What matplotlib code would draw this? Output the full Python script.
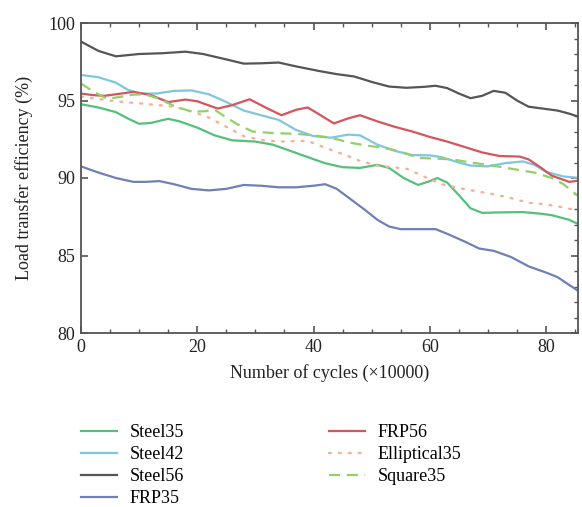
import matplotlib
matplotlib.use("Agg")
import matplotlib.pyplot as plt
from matplotlib.ticker import MultipleLocator

plt.rcParams['font.family'] = ['Liberation Serif', 'DejaVu Serif']

steel35_x = [0, 3, 6, 8, 10, 12, 15, 17, 20, 23, 26, 30, 33, 36, 39, 42, 45, 48, 51, 53, 55.5, 58, 60, 61.3, 63, 65, 67, 69, 72, 76, 79, 81, 84, 86]
steel35_y = [94.76, 94.55, 94.25, 93.85, 93.5, 93.55, 93.82, 93.65, 93.25, 92.75, 92.43, 92.35, 92.15, 91.75, 91.35, 90.95, 90.7, 90.65, 90.85, 90.65, 90.0, 89.55, 89.8, 90.0, 89.7, 88.9, 88.05, 87.75, 87.78, 87.8, 87.7, 87.6, 87.3, 86.95]

steel42_x = [0, 3, 6, 8, 10, 13, 16, 19, 22, 25, 28, 31, 34, 37, 40, 43, 46, 48, 51, 54, 57, 60, 62, 65, 67, 70, 73, 76, 78, 80, 83, 86]
steel42_y = [96.65, 96.5, 96.15, 95.7, 95.45, 95.45, 95.62, 95.65, 95.4, 94.9, 94.35, 94.05, 93.75, 93.1, 92.7, 92.6, 92.8, 92.75, 92.15, 91.75, 91.48, 91.46, 91.35, 91.0, 90.8, 90.75, 90.96, 91.07, 90.85, 90.4, 90.1, 90.0]

steel56_x = [0, 3, 6, 10, 14, 18, 21, 25, 28, 31, 34, 37, 41, 44, 47, 50, 53, 56, 59, 61, 63, 65, 67, 69, 71, 73, 75, 77, 80, 82, 84, 86]
steel56_y = [98.8, 98.2, 97.85, 98.0, 98.05, 98.15, 98.0, 97.65, 97.38, 97.4, 97.45, 97.2, 96.9, 96.7, 96.55, 96.2, 95.9, 95.82, 95.88, 95.95, 95.8, 95.45, 95.15, 95.3, 95.62, 95.5, 95.0, 94.6, 94.45, 94.35, 94.15, 93.9]

frp35_x = [0, 3, 6, 9, 11, 13.5, 16, 19, 22, 25, 28, 31, 34, 37, 40, 42, 44, 46.5, 49, 51, 53, 55, 58, 61, 63, 66, 68.5, 71, 74, 77, 80, 82, 84, 86]
frp35_y = [90.75, 90.35, 90.0, 89.75, 89.75, 89.8, 89.6, 89.3, 89.2, 89.3, 89.55, 89.5, 89.4, 89.4, 89.5, 89.6, 89.3, 88.6, 87.9, 87.3, 86.87, 86.7, 86.7, 86.7, 86.4, 85.9, 85.45, 85.3, 84.9, 84.3, 83.9, 83.6, 83.1, 82.6]

frp56_x = [0, 2, 4, 7, 9, 12, 15, 18, 20, 23.5, 26, 29, 32, 34.5, 37, 39, 41, 43.5, 46, 48, 51, 54, 57, 60, 63, 66, 69, 72, 75.5, 77, 79, 81, 84, 86]
frp56_y = [95.45, 95.35, 95.3, 95.45, 95.56, 95.35, 94.9, 95.06, 94.95, 94.48, 94.7, 95.08, 94.5, 94.05, 94.4, 94.55, 94.1, 93.52, 93.85, 94.05, 93.65, 93.3, 93.0, 92.65, 92.35, 92.0, 91.65, 91.42, 91.38, 91.2, 90.7, 90.15, 89.75, 89.85]

ell35_x = [0, 3, 6, 9, 12, 16, 19, 22, 25, 28, 31, 34, 37, 39, 42, 45, 48, 51, 54, 56, 59, 62, 65, 68, 71, 74, 77, 80, 83, 86]
ell35_y = [95.25, 95.1, 94.95, 94.85, 94.75, 94.6, 94.3, 93.9, 93.3, 92.7, 92.45, 92.35, 92.38, 92.4, 91.95, 91.55, 91.1, 90.8, 90.68, 90.6, 90.1, 89.6, 89.35, 89.15, 88.95, 88.7, 88.4, 88.3, 88.1, 87.85]

sq35_x = [0, 2, 4.5, 7, 9, 11, 13.5, 16, 19, 21, 23, 25, 27, 29.5, 33, 37, 40, 43, 46, 49, 52, 55, 58, 61, 64, 67, 70, 74, 78, 81, 83, 85, 86]
sq35_y = [96.1, 95.6, 95.1, 95.25, 95.38, 95.4, 95.1, 94.65, 94.28, 94.3, 94.4, 93.9, 93.45, 93.0, 92.9, 92.85, 92.75, 92.6, 92.3, 92.1, 91.95, 91.7, 91.3, 91.25, 91.2, 91.0, 90.85, 90.6, 90.35, 90.0, 89.6, 89.0, 88.7]

x_ticks = [0, 20, 40, 60, 80]
y_ticks = [80, 85, 90, 95, 100]

fig = plt.figure(figsize=(5.82, 5.07), dpi=100)
ax = fig.add_axes([81/582, 1-333/507, (578-81)/582, (333-23)/507])

lw = 1.6
ax.plot(steel35_x, steel35_y, color='#55c07a', lw=lw, label='Steel35')
ax.plot(steel42_x, steel42_y, color='#80c6dc', lw=lw, label='Steel42')
ax.plot(steel56_x, steel56_y, color='#555555', lw=lw, label='Steel56')
ax.plot(frp35_x, frp35_y, color='#6f80b6', lw=lw, label='FRP35')
ax.plot(frp56_x, frp56_y, color='#d6545c', lw=lw, label='FRP56')
ax.plot(ell35_x, ell35_y, color='#f5b196', lw=1.7, ls=(0, (0.8, 3.4)), dash_capstyle='round', label='Elliptical35')
ax.plot(sq35_x, sq35_y, color='#92d06c', lw=lw, ls=(0, (5, 3)), label='Square35')

ax.set_xlim(0, 85.5)
ax.set_ylim(80, 100)
ax.set_xticks(x_ticks)
ax.set_yticks(y_ticks)
ax.xaxis.set_minor_locator(MultipleLocator(5))
ax.yaxis.set_minor_locator(MultipleLocator(1))

for s in ax.spines.values():
    s.set_color('#555555')
    s.set_linewidth(1.3)

ax.tick_params(which='major', direction='in', length=5, width=1.2, color='#555555',
               top=True, right=True, labelsize=13, pad=4, labelcolor='#222222')
ax.tick_params(axis='x', which='minor', direction='in', length=3, width=1.0, color='#555555',
               top=True, bottom=True)
ax.tick_params(axis='y', which='minor', direction='in', length=3, width=1.0, color='#555555',
               left=False, right=True)

ax.set_xlabel('Number of cycles (×10000)', fontsize=13, color='#222222', labelpad=6)
ax.set_ylabel('Load transfer efficiency (%)', fontsize=13, color='#222222', labelpad=11)

fig.legend(loc='upper left', bbox_to_anchor=(74/582, 1-417/507), ncol=2,
           frameon=False, fontsize=13, handlelength=2.0, handletextpad=0.7,
           columnspacing=8.0, labelspacing=0.27, borderaxespad=0)

fig.savefig('out.png', dpi=100)
